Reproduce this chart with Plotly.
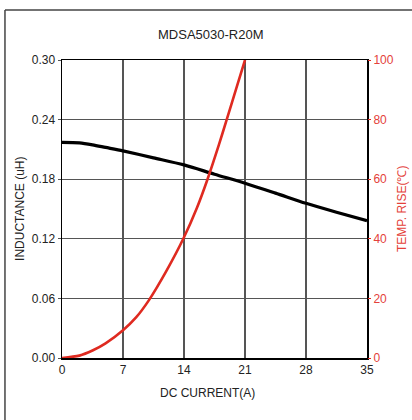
import plotly.graph_objects as go

# Inductance curve (left axis)
current_l = [0, 2, 3.5, 5, 7, 10.5, 14, 17.5, 21, 24.5, 28, 31.5, 35]
inductance = [0.217, 0.2165, 0.2146, 0.212, 0.2085, 0.2015, 0.1944, 0.185, 0.176, 0.166, 0.1557, 0.1467, 0.1382]

# Temperature rise curve (right axis)
current_t = [0, 2, 3.5, 5, 7, 8.5, 10, 12, 14, 15.5, 16.7, 18, 18.9, 20, 21]
temp_rise = [0, 0.8, 2.5, 4.9, 9.3, 13.6, 19.5, 29.3, 40.5, 50.5, 60, 71.5, 80, 90.5, 100]

x_ticks = [0, 7, 14, 21, 28, 35]
y_ticks = [0.00, 0.06, 0.12, 0.18, 0.24, 0.30]
y_tick_text = ["0.00", "0.06", "0.12", "0.18", "0.24", "0.30"]
y2_ticks = [0, 20, 40, 60, 80, 100]

RED = "#df2a20"
RED_TXT = "#e4413a"
FONT = "Liberation Sans"
TXT = "#222"

fig = go.Figure()
fig.add_trace(go.Scatter(x=current_l, y=inductance, mode="lines",
                         line=dict(color="black", width=3.2, shape="spline", smoothing=0.8),
                         yaxis="y", showlegend=False, hoverinfo="skip"))
fig.add_trace(go.Scatter(x=current_t, y=temp_rise, mode="lines",
                         line=dict(color=RED, width=2.6, shape="spline", smoothing=0.8),
                         yaxis="y2", showlegend=False, hoverinfo="skip"))

fig.update_layout(
    width=412, height=420,
    margin=dict(l=62, r=45, t=60, b=62, autoexpand=False),
    paper_bgcolor="white", plot_bgcolor="white",
    font=dict(family=FONT, size=12, color=TXT),
    xaxis=dict(range=[0, 35], tickvals=x_ticks, showgrid=True, gridcolor="#555", gridwidth=1.2,
               showline=True, linecolor="black", linewidth=1.5, mirror=True, ticks="",
               zeroline=False, automargin=False, tickfont=dict(size=12, color=TXT)),
    yaxis=dict(range=[0, 0.30], tickvals=y_ticks, ticktext=y_tick_text, showgrid=True,
               gridcolor="#555", gridwidth=1.2, showline=True, linecolor="black", linewidth=1.5,
               mirror=True, ticks="outside", ticklen=3, tickcolor="#555", zeroline=False,
               automargin=False, tickfont=dict(size=12, color=TXT)),
    yaxis2=dict(range=[0, 100], tickvals=y2_ticks, overlaying="y", side="right", showgrid=False,
                zeroline=False, showline=False, ticks="outside", ticklen=3, tickcolor=RED,
                automargin=False, tickfont=dict(size=12, color=RED_TXT)),
    annotations=[
        dict(text="MDSA5030-R20M", xref="paper", yref="paper", x=0.489, y=1.084,
             xanchor="center", yanchor="middle", showarrow=False,
             font=dict(size=13, color=TXT)),
        dict(text="DC CURRENT(A)", xref="paper", yref="paper", x=0.476, y=-0.117,
             xanchor="center", yanchor="middle", showarrow=False,
             font=dict(size=12, color=TXT)),
        dict(text="INDUCTANCE (uH)", xref="paper", yref="paper", x=-0.138, y=0.5,
             xanchor="center", yanchor="middle", showarrow=False, textangle=-90,
             font=dict(size=12, color=TXT)),
        dict(text="TEMP. RISE(℃)", xref="paper", yref="paper", x=1.115, y=0.5,
             xanchor="center", yanchor="middle", showarrow=False, textangle=-90,
             font=dict(size=12, color=RED_TXT)),
    ],
    shapes=[
        dict(type="line", xref="paper", yref="paper", x0=-0.187, x1=1.2, y0=1.168, y1=1.168,
             line=dict(color="#444", width=1.5)),
        dict(type="line", xref="paper", yref="paper", x0=-0.187, x1=-0.187, y0=1.168, y1=-0.3,
             line=dict(color="#444", width=1.5)),
    ],
)

fig.write_html("out.html",
               config={"displayModeBar": False, "staticPlot": True},
               post_script="document.body.style.margin='0';document.body.style.padding='0';")
